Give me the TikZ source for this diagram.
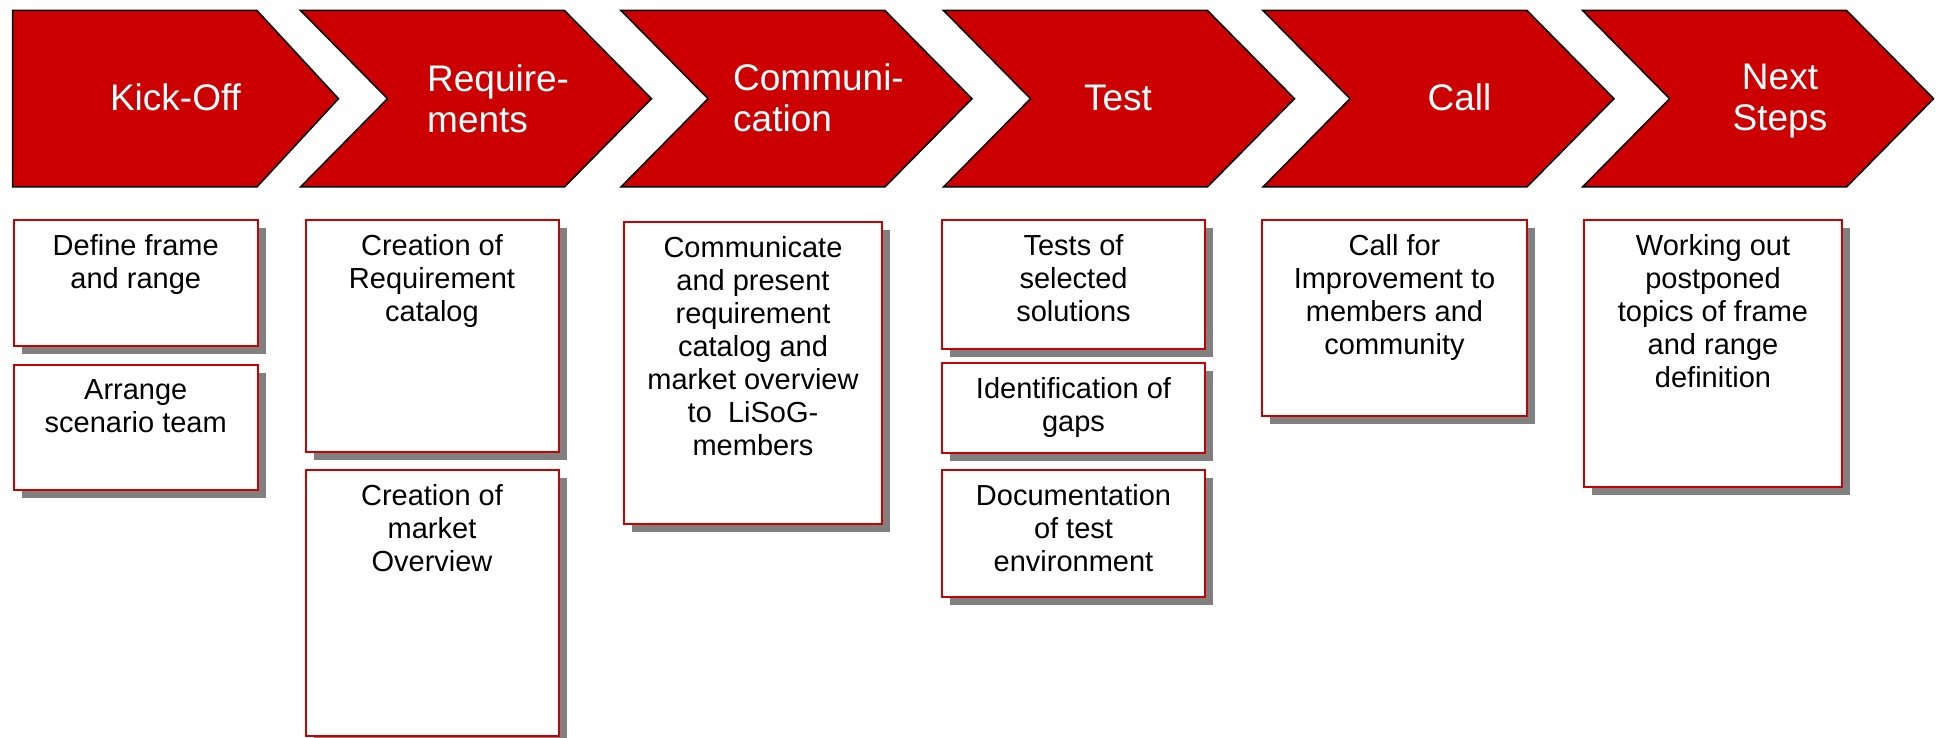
\documentclass[tikz,border=0pt]{standalone}
\usepackage{fontspec}
\setmainfont{Liberation Sans}
\usetikzlibrary{positioning,shadows}
\definecolor{phasered}{HTML}{CC0000}
\definecolor{shadowgray}{HTML}{808080}

\begin{document}
\begin{tikzpicture}
  [x=1pt, y=-1pt,
   phase/.style={draw=black, line width=1.5pt, fill=phasered},
   phasetext/.style={text=white, inner sep=0pt, font=\fontsize{37}{41}\selectfont},
   card/.style={draw=phasered, line width=2pt, fill=white, anchor=north west, inner sep=0pt,
     general shadow={fill=shadowgray, shadow xshift=8pt, shadow yshift=-8pt}},
   cardtext/.style={inner sep=0pt, align=center, font=\fontsize{29}{33}\selectfont}]
  \useasboundingbox (0,0) rectangle (1939,738);
  \draw[phase] (12.5,10.5) -- (257,10.5) -- (338.5,98.7) -- (257,186.9) -- (12.5,186.9) -- cycle;
  \draw[phase] (300.5,10.5) -- ++(264,0) -- ++(87,88.2) -- ++(-87,88.2) -- ++(-264,0) -- ++(87,-88.2) -- cycle;
  \draw[phase] (621,10.5) -- ++(264,0) -- ++(87,88.2) -- ++(-87,88.2) -- ++(-264,0) -- ++(87,-88.2) -- cycle;
  \draw[phase] (943.5,10.5) -- ++(264,0) -- ++(87,88.2) -- ++(-87,88.2) -- ++(-264,0) -- ++(87,-88.2) -- cycle;
  \draw[phase] (1263,10.5) -- ++(264,0) -- ++(87,88.2) -- ++(-87,88.2) -- ++(-264,0) -- ++(87,-88.2) -- cycle;
  \draw[phase] (1582.6,10.5) -- ++(264,0) -- ++(87,88.2) -- ++(-87,88.2) -- ++(-264,0) -- ++(87,-88.2) -- cycle;
  \node[phasetext, anchor=base] (kickoff) at (175.5,111) {Kick-Off};
  \node[phasetext, anchor=north west, align=left] (requirements) at (427,64.2) {Require-\\ments};
  \node[phasetext, anchor=north west, align=left] (communication) at (733,63.8) {Communi-\\cation};
  \node[phasetext, anchor=base] (test) at (1118,111) {Test};
  \node[phasetext, anchor=base] (call) at (1459.5,111) {Call};
  \node[phasetext, anchor=north, align=center] (nextsteps) at (1780,64.2) {Next\\Steps};

  \node[card, minimum width=244.5, minimum height=126] (define) at (12.5,219) {};
  \node[cardtext, below=15.5pt of define.north] (define-t) {Define frame\\and range};
  \node[card, minimum width=244.5, minimum height=125] (arrange) at (12.5,364) {};
  \node[cardtext, below=15.5pt of arrange.north] (arrange-t) {Arrange\\scenario team};

  \node[card, minimum width=253, minimum height=232] (reqcat) at (304.5,219) {};
  \node[cardtext, below=15.5pt of reqcat.north] (reqcat-t) {Creation of\\Requirement\\catalog};
  \node[card, minimum width=253, minimum height=266] (market) at (304.5,469) {};
  \node[cardtext, below=15.5pt of market.north] (market-t) {Creation of\\market\\Overview};

  \node[card, minimum width=258, minimum height=302] (present) at (623,221) {};
  \node[cardtext, below=15.5pt of present.north] (present-t) {Communicate\\and present\\requirement\\catalog and\\market overview\\to~~LiSoG-\\members};

  \node[card, minimum width=263, minimum height=129] (tests) at (941,219) {};
  \node[cardtext, below=15.5pt of tests.north] (tests-t) {Tests of\\selected\\solutions};
  \node[card, minimum width=263, minimum height=90] (gaps) at (941,362) {};
  \node[cardtext, below=15.5pt of gaps.north] (gaps-t) {Identification of\\gaps};
  \node[card, minimum width=263, minimum height=127] (testenv) at (941,469) {};
  \node[cardtext, below=15.5pt of testenv.north] (testenv-t) {Documentation\\of test\\environment};

  \node[card, minimum width=265, minimum height=196] (improve) at (1261,219) {};
  \node[cardtext, below=15.5pt of improve.north] (improve-t) {Call for\\Improvement to\\members and\\community};

  \node[card, minimum width=258, minimum height=267] (postponed) at (1583,219) {};
  \node[cardtext, below=15.5pt of postponed.north] (postponed-t) {Working out\\postponed\\topics of frame\\and range\\definition};
\end{tikzpicture}
\end{document}
